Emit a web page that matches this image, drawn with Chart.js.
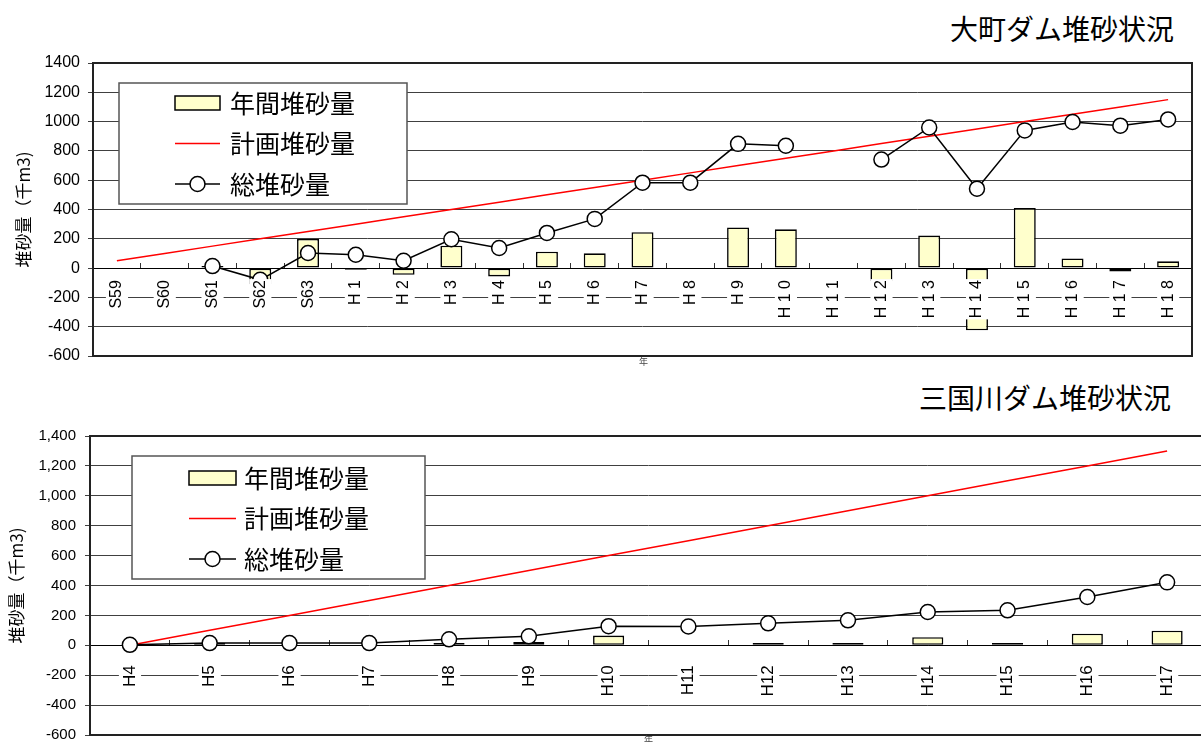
<!DOCTYPE html>
<html lang="ja">
<head>
<meta charset="utf-8">
<title>ダム堆砂状況</title>
<script src="https://cdn.jsdelivr.net/npm/chart.js@4.4.1/dist/chart.umd.min.js"></script>
<style>
  html, body { margin: 0; padding: 0; background: #fff; overflow: hidden; }
  body { width: 1201px; height: 742px; position: relative; font-family: "Noto Sans CJK JP", sans-serif; }
  .title { position: absolute; font-size: 28px; line-height: 30px; color: #000; white-space: nowrap; }
  .box { position: absolute; left: 0; }
  .xname { position: absolute; font-size: 9px; line-height: 12px; color: #444; }
</style>
</head>
<body>
<div class="title" style="right:27px; top:13px">大町ダム堆砂状況</div>
<div class="box" style="top:40px; width:1201px; height:335px"><canvas id="omachi"></canvas></div>
<div class="xname" style="left:639px; top:356px">年</div>

<div class="title" style="right:30px; top:382px">三国川ダム堆砂状況</div>
<div class="box" style="top:410px; width:1216px; height:344px"><canvas id="sagurigawa"></canvas></div>
<div class="xname" style="left:644px; top:734px">年</div>

<script>
// 大町ダム (千m3)
const omachiYears = ['S59', 'S60', 'S61', 'S62', 'S63', 'H 1', 'H 2', 'H 3', 'H 4', 'H 5', 'H 6', 'H 7',
  'H 8', 'H 9', 'H 1 0', 'H 1 1', 'H 1 2', 'H 1 3', 'H 1 4', 'H 1 5', 'H 1 6', 'H 1 7', 'H 1 8'];
const omachiAnnual = [null, null, 14, -110, 200, -12, -46, 153, -57, 112, 101, 245,
  null, 277, 265, null, -90, 222, -425, 410, 66, -23, 46];
const omachiPlan = [50, 100, 150, 200, 250, 300, 350, 400, 450, 500, 550, 600,
  650, 700, 750, 800, 850, 900, 950, 1000, 1050, 1100, 1150];
const omachiTotal = [null, null, 14, -80, 103, 91, 50, 197, 137, 240, 336, 583,
  583, 848, 835, null, 741, 960, 542, 940, 997, 972, 1015];

// 三国川ダム (千m3)
const sagurigawaYears = ['H4', 'H5', 'H6', 'H7', 'H8', 'H9', 'H10', 'H11', 'H12', 'H13', 'H14', 'H15', 'H16', 'H17'];
const sagurigawaAnnual = [null, 15, null, null, 15, 22, 65, null, 15, 15, 54, 15, 78, 98];
const sagurigawaPlan = [0, 100, 200, 300, 400, 500, 600, 700, 800, 900, 1000, 1100, 1200, 1300];
const sagurigawaTotal = [3, 15, 15, 15, 40, 60, 128, 126, 147, 167, 223, 234, 323, 421];

const seriesNames = ['年間堆砂量', '計画堆砂量', '総堆砂量'];
const yAxisName = '堆砂量（千m3)';
const yMin = -600, yMax = 1400, yStep = 200;

Chart.defaults.font.family = '"Liberation Sans", Arial, sans-serif';
Chart.defaults.color = '#000';

// 凡例（枠付き、グラフ内）
const boxLegend = {
  id: 'boxLegend',
  afterDraw(chart, args, opts) {
    const { ctx } = chart;
    ctx.save();
    ctx.fillStyle = '#fff';
    ctx.fillRect(opts.left, opts.top, opts.width, opts.height);
    ctx.strokeStyle = '#555';
    ctx.lineWidth = 1.5;
    ctx.strokeRect(opts.left, opts.top, opts.width, opts.height);

    const sx = opts.left + opts.swatchOffset;
    const sw = opts.swatchWidth;
    chart.data.datasets.forEach((ds, i) => {
      const y = opts.top + opts.firstRow + i * opts.rowGap;
      if (ds.type === 'bar') {
        ctx.fillStyle = ds.backgroundColor;
        ctx.fillRect(sx, y - 7, sw, 14);
        ctx.strokeStyle = ds.borderColor;
        ctx.lineWidth = 1.5;
        ctx.strokeRect(sx, y - 7, sw, 14);
      } else {
        ctx.strokeStyle = ds.borderColor;
        ctx.lineWidth = ds.borderWidth;
        ctx.beginPath();
        ctx.moveTo(sx, y);
        ctx.lineTo(sx + sw, y);
        ctx.stroke();
        if (ds.pointRadius > 0) {
          ctx.beginPath();
          ctx.arc(sx + sw / 2, y, ds.pointRadius, 0, Math.PI * 2);
          ctx.fillStyle = ds.pointBackgroundColor;
          ctx.fill();
          ctx.lineWidth = ds.pointBorderWidth;
          ctx.strokeStyle = ds.pointBorderColor;
          ctx.stroke();
        }
      }
      ctx.fillStyle = '#000';
      ctx.font = opts.fontSize + 'px "Noto Sans CJK JP"';
      ctx.textBaseline = 'middle';
      ctx.textAlign = 'left';
      ctx.fillText(ds.label, opts.left + opts.textOffset, y);
    });
    ctx.restore();
  }
};

// プロットエリアの枠
const plotFrame = {
  id: 'plotFrame',
  afterDraw(chart) {
    const { ctx, chartArea: a } = chart;
    ctx.save();
    ctx.strokeStyle = '#222';
    ctx.lineWidth = 2;
    ctx.strokeRect(a.left, a.top, a.right - a.left, a.bottom - a.top);
    ctx.restore();
  }
};

function makeDamChart(id, cfg) {
  return new Chart(document.getElementById(id), {
    type: 'bar',
    data: {
      labels: cfg.labels,
      datasets: [
        {
          type: 'bar',
          label: seriesNames[0],
          data: cfg.annual,
          backgroundColor: '#FFFFCC',
          borderColor: '#000',
          borderWidth: 1.6,
          borderSkipped: false,
          categoryPercentage: 1,
          barPercentage: cfg.barPct,
          order: 3
        },
        {
          type: 'line',
          label: seriesNames[1],
          data: cfg.plan,
          borderColor: '#FF0000',
          borderWidth: 1.5,
          pointRadius: 0,
          tension: 0,
          order: 2
        },
        {
          type: 'line',
          label: seriesNames[2],
          data: cfg.total,
          borderColor: '#000',
          borderWidth: 1.5,
          pointRadius: 7.5,
          pointBackgroundColor: '#fff',
          pointBorderColor: '#000',
          pointBorderWidth: 1.5,
          tension: 0,
          order: 1
        }
      ]
    },
    options: {
      responsive: true,
      maintainAspectRatio: false,
      animation: false,
      layout: { padding: cfg.padding },
      plugins: {
        legend: { display: false },
        tooltip: { enabled: false },
        boxLegend: cfg.legend
      },
      scales: {
        x: {
          position: { y: 0 },
          offset: true,
          grid: { drawOnChartArea: false, drawTicks: true, tickLength: -6, color: '#333', offset: true },
          border: { display: true, color: '#000', width: 1 },
          ticks: {
            autoSkip: false,
            minRotation: 90,
            maxRotation: 90,
            padding: cfg.labelGap + 6,
            font: { size: cfg.xFont, lineHeight: 0.01 },
            color: '#000',
            showLabelBackdrop: true,
            backdropColor: '#fff',
            backdropPadding: { x: 1, y: 11 },
            z: 1
          }
        },
        y: {
          min: yMin,
          max: yMax,
          grid: { color: '#404040', lineWidth: 1, drawTicks: true, tickLength: 5 },
          border: { display: false },
          ticks: {
            stepSize: yStep,
            padding: cfg.yPad,
            font: { size: cfg.yFont },
            color: '#000',
            callback: cfg.yFormat
          },
          title: {
            display: true,
            text: yAxisName,
            color: '#000',
            font: { family: '"Noto Sans CJK JP"', size: 17 },
            padding: { top: cfg.titlePad, bottom: 0 }
          },
          afterFit: (scale) => { scale.width = cfg.axisWidth; }
        }
      }
    },
    plugins: [boxLegend, plotFrame]
  });
}

makeDamChart('omachi', {
  labels: omachiYears,
  annual: omachiAnnual,
  plan: omachiPlan,
  total: omachiTotal,
  barPct: 0.46,
  padding: { top: 23, bottom: 19, left: 0, right: 8 },
  axisWidth: 93,
  yPad: 8,
  yFont: 16,
  xFont: 16,
  labelGap: 12,
  titlePad: 13,
  yFormat: (v) => String(v),
  legend: { left: 119, top: 43, width: 288, height: 121, firstRow: 20, rowGap: 40.5,
    swatchOffset: 56, swatchWidth: 45, textOffset: 111, fontSize: 25 }
});

makeDamChart('sagurigawa', {
  labels: sagurigawaYears,
  annual: sagurigawaAnnual,
  plan: sagurigawaPlan,
  total: sagurigawaTotal,
  barPct: 0.39,
  padding: { top: 26, bottom: 19, left: 0, right: 8 },
  axisWidth: 90,
  yPad: 9,
  yFont: 15,
  xFont: 17,
  labelGap: 20,
  titlePad: 6,
  yFormat: (v) => v.toLocaleString('en-US'),
  legend: { left: 132, top: 46, width: 293, height: 123, firstRow: 22, rowGap: 40.5,
    swatchOffset: 57, swatchWidth: 47, textOffset: 112, fontSize: 25 }
});
</script>
</body>
</html>
